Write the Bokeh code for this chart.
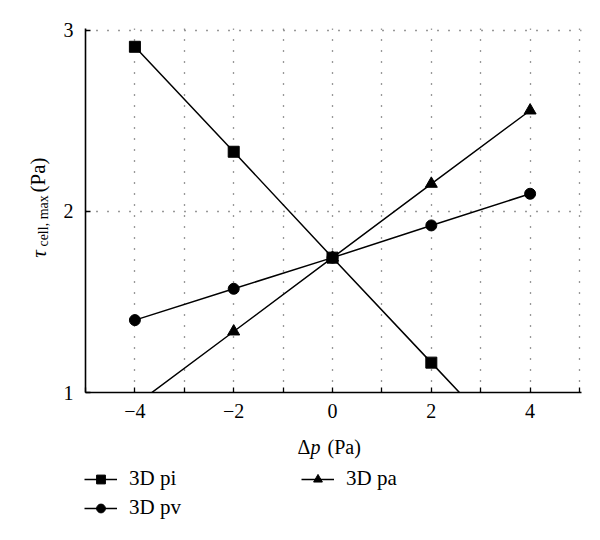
import math
from bokeh.plotting import figure
from bokeh.layouts import column, row
from bokeh.models import (Range1d, SingleIntervalTicker, FixedTicker,
                          Legend, LegendItem)
from bokeh.core.properties import value
from bokeh.embed import file_html
from bokeh.resources import INLINE

# ---- data ----
dp = [-4, -2, 0, 2, 4]
tau_pi = [2.91, 2.33, 1.745, 1.165, 0.585]
tau_pv = [1.40, 1.573, 1.745, 1.923, 2.098]
tau_pa = [0.93, 1.337, 1.745, 2.153, 2.558]
x_tick_labels = {-4: "\u22124", -2: "\u22122", 0: "0", 2: "2", 4: "4"}
y_ticks = [1, 2, 3]
series_names = ["3D pi", "3D pv", "3D pa"]

FONT = "Liberation Serif"
TOP_H = 424      # height of the upper row (y-label strip + main plot)
LEFT_W = 60      # width of the y-label strip
BOT_H = 108      # height of the strip holding the x label and legend


def blank(width, height, xr, yr):
    f = figure(width=width, height=height, x_range=xr, y_range=yr,
               output_backend="svg", toolbar_location=None,
               x_axis_type=None, y_axis_type=None,
               min_border_left=0, min_border_right=0,
               min_border_top=0, min_border_bottom=0)
    f.outline_line_color = None
    f.grid.visible = False
    return f


def txt(f, x, y, s, size, style="normal", angle=0.0):
    f.text(x=[x], y=[y], text=[s], angle=angle, text_font=value(FONT),
           text_font_size=size, text_font_style=style, text_color="black",
           text_align="left", text_baseline="alphabetic")


# ---- main plot (ranges padded slightly so the top/right dotted lines show) ----
p = figure(width=584 - LEFT_W, height=TOP_H, output_backend="svg",
           toolbar_location=None, x_range=Range1d(-5, 5.04), y_range=Range1d(1, 3.011),
           min_border_left=82 - LEFT_W, min_border_right=3, min_border_top=28,
           min_border_bottom=TOP_H - 392)
p.outline_line_color = None

xa = p.xaxis[0]
xa.ticker = SingleIntervalTicker(interval=2, num_minor_ticks=2)
xa.major_label_overrides = x_tick_labels
xa.major_tick_in = 0
xa.major_tick_out = 0
xa.minor_tick_in = 5
xa.minor_tick_out = 0
xa.minor_tick_line_width = 1.3
xa.axis_line_width = 1.6
xa.axis_line_color = "black"
xa.major_label_text_font = FONT
xa.major_label_text_font_size = "20px"
xa.major_label_text_color = "black"
xa.major_label_standoff = 11

ya = p.yaxis[0]
ya.ticker = FixedTicker(ticks=y_ticks)
ya.major_tick_in = 5
ya.major_tick_out = 0
ya.major_tick_line_width = 1.3
ya.minor_tick_line_color = None
ya.axis_line_width = 1.6
ya.axis_line_color = "black"
ya.major_label_text_font = FONT
ya.major_label_text_font_size = "20px"
ya.major_label_text_color = "black"
ya.major_label_standoff = 12

p.xgrid.ticker = SingleIntervalTicker(interval=1)
p.ygrid.ticker = FixedTicker(ticks=[2, 3])
for g in (p.xgrid[0], p.ygrid[0]):
    g.grid_line_color = "#333333"
    g.grid_line_width = 1.3
    g.grid_line_dash = "1 10"

lw = 1.5
p.line(dp, tau_pi, line_color="black", line_width=lw)
p.scatter(dp, tau_pi, marker="square", size=11, fill_color="black", line_color="black")
p.line(dp, tau_pv, line_color="black", line_width=lw)
p.scatter(dp, tau_pv, marker="circle", size=11, fill_color="black", line_color="black")
p.line(dp, tau_pa, line_color="black", line_width=lw)
p.scatter(dp, tau_pa, marker="triangle", size=12, fill_color="black", line_color="black")

# ---- y-axis title strip (data units = page pixels) ----
yl = blank(LEFT_W, TOP_H, Range1d(0, LEFT_W), Range1d(TOP_H, 0))
txt(yl, 38, 267, "\u03c4", "21px", "italic", math.pi / 2)
txt(yl, 43, 254, "cell, max", "14px", "normal", math.pi / 2)
txt(yl, 37, 191, "(Pa)", "21px", "normal", math.pi / 2)

# ---- bottom strip: x-axis title and legend ----
bt = blank(584, BOT_H, Range1d(0, 584), Range1d(TOP_H + BOT_H, TOP_H))
txt(bt, 297, 446, "\u0394", "20px")
txt(bt, 310, 446, "p", "20px", "italic")
txt(bt, 327, 446, "(Pa)", "20px")

# legend renderers (same series; they fall outside this strip's ranges)
r1 = [bt.line(dp, tau_pi, line_color="black", line_width=lw),
      bt.scatter(dp, tau_pi, marker="square", fill_color="black", line_color="black")]
r2 = [bt.line(dp, tau_pv, line_color="black", line_width=lw),
      bt.scatter(dp, tau_pv, marker="circle", fill_color="black", line_color="black")]
r3 = [bt.line(dp, tau_pa, line_color="black", line_width=lw),
      bt.scatter(dp, tau_pa, marker="triangle", fill_color="black", line_color="black")]

legend = Legend(items=[LegendItem(label=series_names[0], renderers=r1),
                       LegendItem(label=series_names[1], renderers=r2),
                       LegendItem(label=series_names[2], renderers=r3)],
                location=(84, BOT_H - (472 - TOP_H) - 48),
                orientation="vertical", nrows=2,
                glyph_width=33, glyph_height=22, label_height=22, label_width=168,
                label_standoff=12, spacing=4, padding=0, margin=0,
                border_line_color=None, background_fill_alpha=0,
                label_text_font=FONT, label_text_font_size="21px",
                label_text_color="black")
bt.add_layout(legend, "center")

layout = column(row(yl, p, spacing=0), bt, spacing=0)
open("out.html", "w").write(file_html(layout, INLINE))
